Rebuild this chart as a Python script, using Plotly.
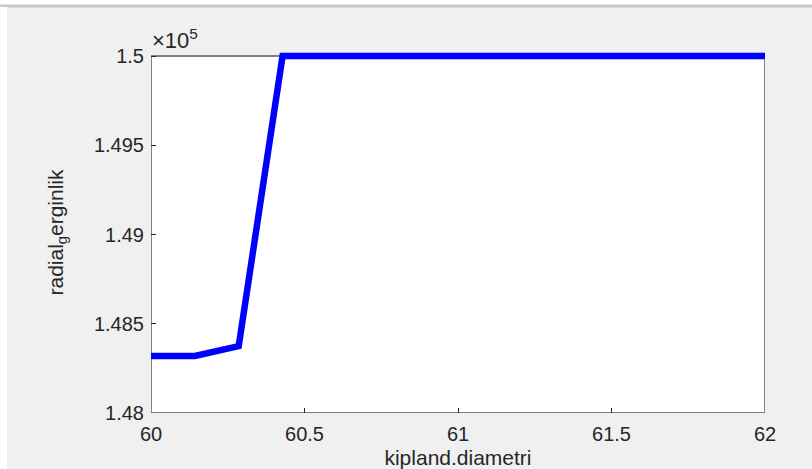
import plotly.graph_objects as go

# data
x_vals = [60, 60.142857, 60.285714, 60.428571, 60.571429, 60.714286, 60.857143,
          61, 61.142857, 61.285714, 61.428571, 61.571429, 61.714286, 61.857143, 62]
y_vals = [148320, 148320, 148375, 150000, 150000, 150000, 150000,
          150000, 150000, 150000, 150000, 150000, 150000, 150000, 150000]
x_ticks = [60, 60.5, 61, 61.5, 62]
x_tick_labels = ["60", "60.5", "61", "61.5", "62"]
y_ticks = [148000, 148500, 149000, 149500, 150000]
y_tick_labels = ["1.48", "1.485", "1.49", "1.495", "1.5"]

W, H = 812, 469
L, R, T, B = 151, 47, 52, 56
PW, PH = W - L - R, H - T - B
YMIN, YMAX = 148000, 150000
ytop = YMIN + PH / 357 * (YMAX - YMIN)

def px(xp):
    return (xp - L) / PW

def py(yp):
    return (H - B - yp) / PH

FONT = "Liberation Sans"
TXT = "#262626"

fig = go.Figure()
fig.add_trace(go.Scatter(x=x_vals, y=y_vals, mode="lines",
                         line=dict(color="#0000ff", width=6.5), hoverinfo="skip"))

shapes = [
    dict(type="rect", xref="x", yref="y", x0=60, x1=62, y0=YMIN, y1=YMAX,
         fillcolor="white", line=dict(width=0), layer="below"),
    dict(type="rect", xref="x", yref="y", x0=60, x1=62, y0=YMIN, y1=YMAX,
         fillcolor="rgba(0,0,0,0)", line=dict(color="#808080", width=2), layer="below"),
    dict(type="rect", xref="paper", yref="paper", x0=px(-2), x1=px(W + 2), y0=py(5), y1=py(-2),
         fillcolor="white", line=dict(width=0), layer="below"),
    dict(type="rect", xref="paper", yref="paper", x0=px(-2), x1=px(W + 2), y0=py(7.5), y1=py(4.5),
         fillcolor="#c4c8d0", line=dict(width=0), layer="below"),
    dict(type="rect", xref="paper", yref="paper", x0=px(-2), x1=px(7), y0=py(H + 2), y1=py(7),
         fillcolor="white", line=dict(width=0), layer="below"),
]

annotations = [
    dict(xref="paper", yref="paper", x=px(150), y=py(55), xanchor="left", yanchor="bottom",
         text="×10<sup>5</sup>", showarrow=False, font=dict(family=FONT, size=22, color=TXT)),
]
# cut-off text line at the very top of the page (only descenders visible)
top_frags = [(",", 57), ("ğ", 250), ("ğ", 290), ("y", 345), ("p", 425), (",", 520), ("p", 545), ("g", 760)]
for t, xp in top_frags:
    annotations.append(dict(xref="paper", yref="paper", x=px(xp), y=py(-15), xanchor="center",
                            yanchor="middle", text=t, showarrow=False,
                            font=dict(family="Liberation Serif", size=22, color="black")))

fig.update_layout(
    width=W, height=H,
    margin=dict(l=L, r=R, t=T, b=B, pad=0, autoexpand=False),
    paper_bgcolor="#f0f0f0", plot_bgcolor="#f0f0f0",
    showlegend=False,
    shapes=shapes, annotations=annotations,
    font=dict(family=FONT, size=20, color=TXT),
    xaxis=dict(range=[60, 62], tickvals=x_ticks, ticktext=x_tick_labels, automargin=False,
               ticks="inside", ticklen=5, tickcolor="#262626", showgrid=False, zeroline=False,
               showline=False, tickfont=dict(size=20), ticklabelstandoff=7,
               title=dict(text="kipland.diametri", font=dict(size=21), standoff=11)),
    yaxis=dict(range=[YMIN, ytop], tickvals=y_ticks, ticktext=y_tick_labels, automargin=False,
               ticks="inside", ticklen=5, tickcolor="#262626", showgrid=False, zeroline=False,
               showline=False, tickfont=dict(size=20), ticklabelstandoff=6,
               title=dict(text="radial<sub>g</sub>erginlik", font=dict(size=21), standoff=24)),
)
fig.write_html("out.html", post_script="document.body.style.margin='0';",
               config={"displayModeBar": False})
